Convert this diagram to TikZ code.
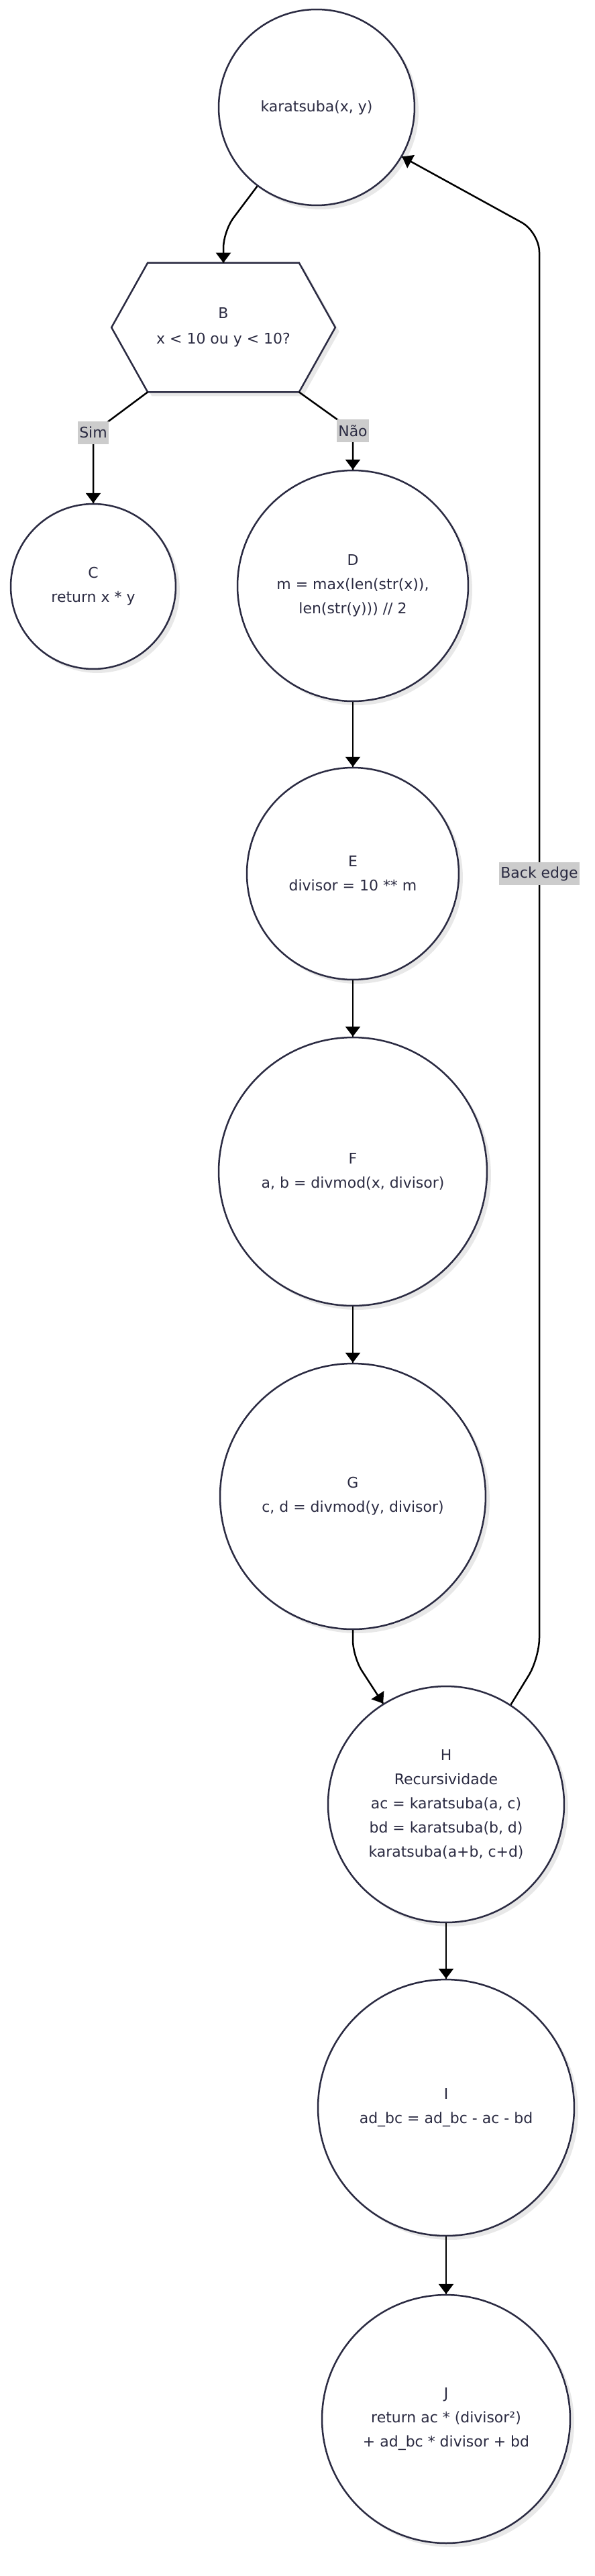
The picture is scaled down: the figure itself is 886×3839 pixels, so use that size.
\documentclass[tikz,border=0pt]{standalone}
\usepackage{fontspec}
\setmainfont{DejaVu Sans}
\usepackage{tikz}
\usetikzlibrary{arrows.meta}
\usetikzlibrary{decorations.markings}
\usetikzlibrary{shadows}
\usetikzlibrary{backgrounds}
\definecolor{tinta}{HTML}{2B2B42}
\tikzset{seta/.style = {line width=0.05cm, decoration={markings,
                                  mark=at position 1 with {\arrow{Triangle[width=0.44cm, length=0.3cm]}}},
                      postaction={decorate}}}
\tikzset{sombra/.style = {drop shadow={shadow xshift=0.12cm, shadow yshift=-0.12cm, fill=black!9, opacity=1}}}
\tikzset{circulo/.style = {circle, draw=tinta, line width=0.05cm, fill=white, sombra, text=tinta,
                           align=center, inner sep=0, font=\fontsize{12.5}{20.5}\selectfont}}
\tikzset{hexagono/.style = {minimum width=6.66cm, minimum height=3.84cm, inner sep=0, text=tinta,
                            align=center, font=\fontsize{12.5}{21.5}\selectfont}}
\tikzset{rotulo/.style = {sharp corners, fill=gray!40, text=tinta, inner xsep=0.04cm, inner ysep=0,
                          minimum height=0.68cm, font=\fontsize{12.5}{15}\selectfont}}

\begin{document}
\begin{tikzpicture}[x=0.02cm, y=-0.02cm]
    \useasboundingbox (0, 0) rectangle (886, 3839);

    \node [circulo, minimum size=5.84cm] (A) at (472, 160) {karatsuba(x, y)};
    \node [hexagono] (B) at (333, 488) {B\\x < 10 ou y < 10?};
    \begin{scope}[on background layer]
      \draw [draw=tinta, line width=0.05cm, fill=white, sombra]
        ([xshift=1.08cm]B.north west) -- ([xshift=-1.08cm]B.north east) -- (B.east)
        -- ([xshift=-1.08cm]B.south east) -- ([xshift=1.08cm]B.south west) -- (B.west) -- cycle;
    \end{scope}
    \node [circulo, minimum size=4.92cm] (C) at (139, 874) {C\\return x * y};
    \node [circulo, minimum size=6.88cm] (D) at (526, 873) {D\\m = max(len(str(x)),\\len(str(y))) // 2};
    \node [circulo, minimum size=6.32cm] (E) at (526, 1302) {E\\divisor = 10 ** m};
    \node [circulo, minimum size=8.0cm] (F) at (526, 1746) {F\\a, b = divmod(x, divisor)};
    \node [circulo, minimum size=7.92cm] (G) at (526, 2230) {G\\c, d = divmod(y, divisor)};
    \node [circulo, minimum size=7.04cm] (H) at (665, 2689)
      {H\\Recursividade\\ac = karatsuba(a, c)\\bd = karatsuba(b, d)\\karatsuba(a+b, c+d)};
    \node [circulo, minimum size=7.64cm] (I) at (665, 3141) {I\\ad\_bc = ad\_bc - ac - bd};
    \node [circulo, minimum size=7.4cm] (J) at (665, 3605)
      {J\\return ac * (divisor²)\\+ ad\_bc * divisor + bd};

    \draw [seta, rounded corners=0.5cm] (A.233) -- ([yshift=0.94cm]B.north) -- (B.north);
    \draw [seta] ([xshift=1.08cm]B.south west) -- ([yshift=2.1cm]C.north) node [rotulo] {Sim} -- (C.north);
    \draw [seta] ([xshift=-1.08cm]B.south east) -- ([yshift=1.16cm]D.north) node [rotulo] {Não} -- (D.north);
    \draw [seta] (D) -- (E);
    \draw [seta] (E) -- (F);
    \draw [seta] (F) -- (G);
    \draw [seta, rounded corners=0.5cm] (G.south) -- ([yshift=-0.8cm]G.south) -- (H.122);
    \draw [seta] (H) -- (I);
    \draw [seta] (I) -- (J);
    \draw [seta, rounded corners=0.6cm] (H.57) -- (804, 2471)
      -- node [rotulo, pos=0.55] {Back edge} (804, 346) -- (A.330);
\end{tikzpicture}
\end{document}
